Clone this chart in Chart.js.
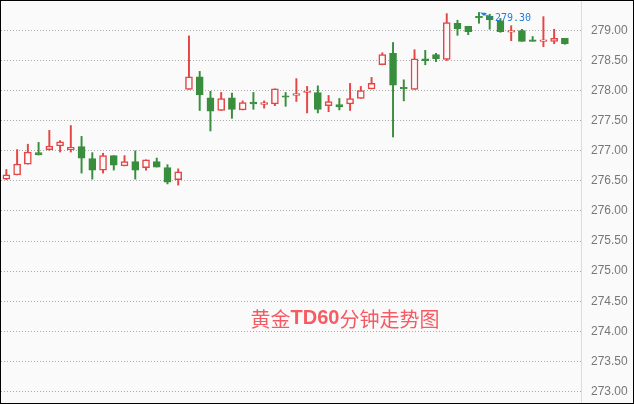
<!DOCTYPE html>
<html>
<head>
<meta charset="utf-8">
<script src="https://cdn.jsdelivr.net/npm/chart.js@4.4.0/dist/chart.umd.min.js"></script>
<style>
  html, body { margin: 0; padding: 0; background: #fff; }
  #wrap { width: 634px; height: 404px; box-sizing: border-box; border: 1px solid #000; background: #fafafa; }
  canvas { display: block; }
</style>
</head>
<body>
<div id="wrap"><canvas id="klineCanvas" width="632" height="402"></canvas></div>
<script>
// 60-minute candles, gold T+D; one extra empty slot on the right
const categories = [
  '1', '2', '3', '4', '5', '6', '7', '8', '9', '10', '11', '12', '13', '14', '15', '16', '17', '18',
  '19', '20', '21', '22', '23', '24', '25', '26', '27', '28', '29', '30', '31', '32', '33', '34', '35', '36',
  '37', '38', '39', '40', '41', '42', '43', '44', '45', '46', '47', '48', '49', '50', '51', '52', '53', ''
];
const opens = [
  276.53, 276.60, 276.78, 276.97, 277.02, 277.08, 277.02, 277.07, 276.87, 276.68,
  276.92, 276.75, 276.82, 276.72, 276.82, 276.72, 276.52, 278.02, 278.23, 277.88,
  277.67, 277.88, 277.68, 277.81, 277.77, 277.78, 277.91, 277.92, 277.97, 277.97,
  277.75, 277.77, 277.78, 277.87, 278.03, 278.43, 278.62, 278.04, 278.02, 278.53,
  278.60, 278.52, 279.12, 279.07, 279.23, 279.24, 279.16, 278.97, 279.00, 278.83,
  278.82, 278.82, 278.87
];
const highs = [
  276.69, 277.02, 277.11, 277.14, 277.34, 277.17, 277.42, 277.24, 276.97, 276.96,
  276.92, 276.92, 277.00, 276.85, 276.88, 276.77, 276.70, 278.91, 278.32, 277.99,
  277.97, 277.96, 277.83, 277.97, 277.83, 278.03, 277.97, 278.20, 278.07, 278.08,
  277.92, 277.87, 278.12, 278.07, 278.22, 278.63, 278.80, 278.18, 278.68, 278.67,
  278.62, 279.28, 279.17, 279.07, 279.30, 279.27, 279.20, 279.08, 279.02, 278.90,
  279.23, 279.02, 278.87
];
const lows = [
  276.52, 276.60, 276.78, 276.93, 277.01, 276.98, 276.98, 276.63, 276.53, 276.63,
  276.68, 276.75, 276.53, 276.68, 276.73, 276.45, 276.43, 278.02, 277.67, 277.33,
  277.67, 277.54, 277.68, 277.69, 277.71, 277.75, 277.74, 277.82, 277.63, 277.63,
  277.65, 277.68, 277.67, 277.87, 278.03, 278.43, 277.23, 277.83, 278.02, 278.43,
  278.48, 278.50, 278.92, 278.93, 279.12, 279.02, 278.97, 278.83, 278.82, 278.82,
  278.73, 278.78, 278.77
];
const closes = [
  276.60, 276.78, 276.98, 276.93, 277.08, 277.15, 277.06, 276.88, 276.68, 276.92,
  276.76, 276.82, 276.68, 276.85, 276.73, 276.48, 276.65, 278.23, 277.93, 277.66,
  277.87, 277.69, 277.80, 277.78, 277.80, 278.03, 277.89, 277.95, 277.99, 277.69,
  277.82, 277.73, 277.87, 278.00, 278.12, 278.60, 278.09, 278.03, 278.53, 278.50,
  278.53, 279.13, 279.03, 278.98, 279.21, 279.18, 278.98, 279.00, 278.82, 278.82,
  278.83, 278.87, 278.78
];
const priceTicks = [273, 273.5, 274, 274.5, 275, 275.5, 276, 276.5, 277, 277.5, 278, 278.5, 279];
const chartTitle = '黄金TD60分钟走势图';

const UP = '#e64545';
const DOWN = '#388e3c';
const BG = '#fafafa';

const isUp = opens.map((o, i) => closes[i] >= o);

// title drawn faintly inside the plot
const watermarkPlugin = {
  id: 'watermark',
  beforeDatasetsDraw(chart) {
    const { ctx, chartArea } = chart;
    const parts = [
      [chartTitle.slice(0, 2), '20px "Noto Sans CJK SC"'],
      [chartTitle.slice(2, 6), 'bold 20px "Liberation Sans"'],
      [chartTitle.slice(6), '20px "Noto Sans CJK SC"']
    ];
    ctx.save();
    let total = 0;
    parts.forEach(p => { ctx.font = p[1]; total += ctx.measureText(p[0]).width; });
    let x = chartArea.left + chartArea.width * 0.593 - total / 2;
    const y = chartArea.top + chartArea.height * 0.791;
    ctx.fillStyle = 'rgba(245, 50, 60, 0.8)';
    ctx.textBaseline = 'middle';
    parts.forEach(p => {
      ctx.font = p[1];
      ctx.fillText(p[0], x, y);
      x += ctx.measureText(p[0]).width;
    });
    ctx.restore();
  }
};

// solid axis line on the right (grid lines stay dotted)
const axisLinePlugin = {
  id: 'axisLine',
  afterDraw(chart) {
    const { ctx, chartArea } = chart;
    const x = Math.round(chartArea.right) + 0.5;
    ctx.save();
    ctx.strokeStyle = '#dcdcdc';
    ctx.lineWidth = 1;
    ctx.beginPath();
    ctx.moveTo(x, 0);
    ctx.lineTo(x, chart.height);
    ctx.stroke();
    ctx.restore();
  }
};

// marks the highest high with an arrow and its value
const maxMarkerPlugin = {
  id: 'maxMarker',
  afterDatasetsDraw(chart) {
    const { ctx, scales } = chart;
    let idx = 0;
    highs.forEach((h, i) => { if (h > highs[idx]) idx = i; });
    const x = scales.x.getPixelForValue(idx);
    const y = scales.y.getPixelForValue(highs[idx]);
    ctx.save();
    ctx.fillStyle = '#1e7fd9';
    ctx.strokeStyle = '#1e7fd9';
    ctx.lineWidth = 1;
    ctx.beginPath();
    ctx.moveTo(x + 1, y);
    ctx.lineTo(x + 8, y + 0.5);
    ctx.lineTo(x + 5, y + 3.5);
    ctx.closePath();
    ctx.fill();
    ctx.beginPath();
    ctx.moveTo(x + 5, y + 2);
    ctx.lineTo(x + 14, y + 5);
    ctx.stroke();
    ctx.font = '10px "DejaVu Sans Mono"';
    ctx.textBaseline = 'middle';
    ctx.fillText(highs[idx].toFixed(2), x + 16, y + 5.5);
    ctx.restore();
  }
};

const ctx = document.getElementById('klineCanvas').getContext('2d');

new Chart(ctx, {
  type: 'bar',
  data: {
    labels: categories,
    datasets: [
      {
        label: 'body',
        data: opens.map((o, i) => [o, closes[i]]),
        backgroundColor: isUp.map(u => u ? BG : DOWN),
        borderColor: isUp.map(u => u ? UP : DOWN),
        borderWidth: 1.5,
        borderSkipped: false,
        minBarLength: 1.5,
        barThickness: 7,
        grouped: false,
        order: 0
      },
      {
        label: 'wick',
        data: lows.map((l, i) => [l, highs[i]]),
        backgroundColor: isUp.map(u => u ? UP : DOWN),
        borderWidth: 0,
        barThickness: 1.3,
        grouped: false,
        order: 1
      }
    ]
  },
  options: {
    responsive: false,
    animation: false,
    events: [],
    layout: { padding: 0 },
    plugins: {
      legend: { display: false },
      tooltip: { enabled: false }
    },
    scales: {
      x: {
        display: false,
        offset: true
      },
      y: {
        position: 'right',
        min: 272.809,
        max: 279.49,
        afterFit(scale) {
          // full-height plot, labels just sit in the right strip
          scale.width = 52;
          scale.paddingTop = 0;
          scale.paddingBottom = 0;
        },
        afterBuildTicks(scale) { scale.ticks = priceTicks.map(v => ({ value: v })); },
        border: { display: false, dash: [1, 2] },
        grid: {
          color: '#a8a8a8',
          lineWidth: 1,
          drawTicks: false
        },
        ticks: {
          color: '#777',
          padding: 10,
          font: { family: 'Liberation Sans', size: 12 },
          callback: v => v.toFixed(2)
        }
      }
    }
  },
  plugins: [watermarkPlugin, maxMarkerPlugin, axisLinePlugin]
});
</script>
</body>
</html>
